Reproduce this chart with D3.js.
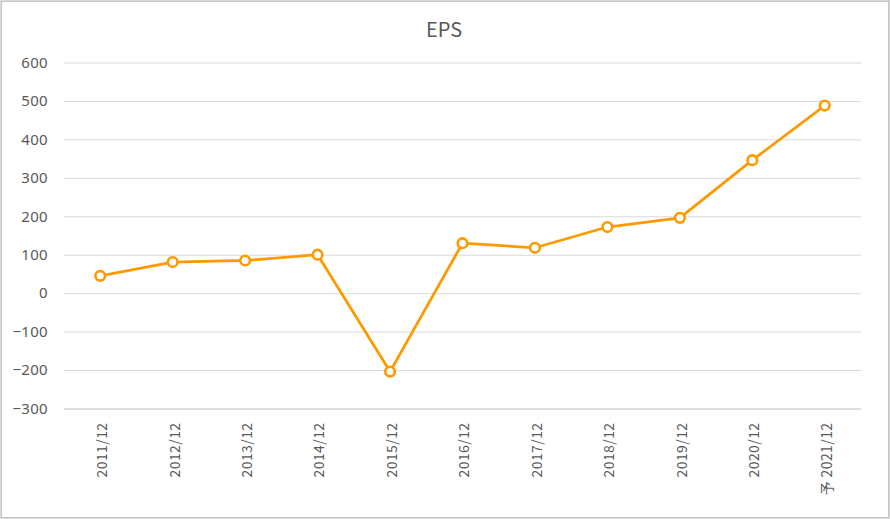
<!DOCTYPE html>
<html>
<head>
<meta charset="utf-8">
<script src="https://cdn.jsdelivr.net/npm/d3@7"></script>
<style>
  body { margin: 0; background: #fff; }
  svg text { font-family: "Noto Sans CJK JP", "Noto Sans", sans-serif; fill: #595959; }
</style>
</head>
<body>
<div id="chart"></div>
<script>
'use strict';

// EPS line chart
const periods = ["2011/12", "2012/12", "2013/12", "2014/12", "2015/12", "2016/12",
    "2017/12", "2018/12", "2019/12", "2020/12", "予 2021/12"]
const eps = [45, 81, 85, 100, -204, 130, 118, 172, 196, 346, 488]
const yTicks = [600, 500, 400, 300, 200, 100, 0, -100, -200, -300]

const width = 890,
    height = 519
const margin = ({ top: 62.5, right: 29, bottom: 110.5, left: 64 })

const svg = d3.select("#chart").append("svg")
    .attr("width", width)
    .attr("height", height)

// chart frame
svg.append("rect")
    .attr("x", 0.5).attr("y", 0.5)
    .attr("width", width - 1).attr("height", height - 1)
    .attr("fill", "#fff")
    .attr("stroke", "#d9d9d9")
svg.append("rect")
    .attr("x", 1.5).attr("y", 1.5)
    .attr("width", width - 3).attr("height", height - 3)
    .attr("fill", "none")
    .attr("stroke", "#c4c4c4")

const x = d3.scaleBand()
    .domain(periods)
    .range([margin.left, width - margin.right])

const y = d3.scaleLinear()
    .domain([-300, 600])
    .range([height - margin.bottom, margin.top])

// title
svg.append("text")
    .attr("x", 444)
    .attr("y", 37)
    .attr("text-anchor", "middle")
    .style("font-size", "20px")
    .text("EPS")

// gridlines + y labels
const yAxis = svg.append("g")
    .attr("transform", `translate(${margin.left},0)`)
    .call(d3.axisLeft(y).tickValues(yTicks)
        .tickSize(-(width - margin.left - margin.right))
        .tickPadding(16)
        .tickFormat(d3.format("d")))
yAxis.select(".domain").remove()
yAxis.selectAll(".tick line")
    .attr("stroke", d => d === -300 ? "#bfbfbf" : "#d9d9d9")
yAxis.selectAll(".tick text")
    .attr("fill", "#595959")
    .style("font-size", "15px")
    .style("letter-spacing", "0.3px")
    .style("font-family", "'Noto Sans', sans-serif")

// x labels (rotated)
const xAxis = svg.append("g")
    .attr("transform", `translate(0,${height - margin.bottom})`)
    .call(d3.axisBottom(x).tickSize(0).tickPadding(0))
xAxis.select(".domain").remove()
xAxis.selectAll(".tick text")
    .attr("transform", "rotate(-90)")
    .attr("x", -14)
    .attr("y", 2)
    .attr("dy", "0.35em")
    .attr("text-anchor", "end")
    .attr("fill", "#595959")
    .style("font-size", "14px")
    .style("letter-spacing", "0.4px")

// line
const cx = d => x(d) + x.bandwidth() / 2
const line = d3.line()
    .x((d, i) => cx(periods[i]))
    .y(d => y(d))

svg.append("path")
    .datum(eps)
    .attr("fill", "none")
    .attr("stroke", "#ff9900")
    .attr("stroke-width", 2.75)
    .attr("stroke-linejoin", "round")
    .attr("d", line)

svg.append("g")
    .selectAll("circle")
    .data(eps)
    .enter().append("circle")
    .attr("cx", (d, i) => cx(periods[i]))
    .attr("cy", d => y(d))
    .attr("r", 4.8)
    .attr("fill", "#fff")
    .attr("stroke", "#ff9900")
    .attr("stroke-width", 2.6)
</script>
</body>
</html>
